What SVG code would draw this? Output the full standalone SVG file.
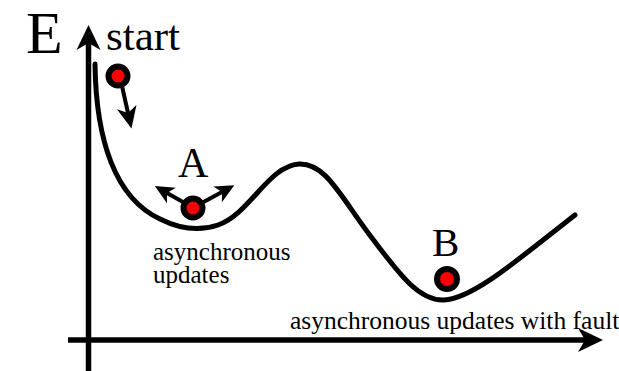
<svg xmlns="http://www.w3.org/2000/svg" width="619" height="371" viewBox="0 0 619 371">
<style>
.ax{stroke:#000;stroke-width:5.5;fill:none}
.cv{stroke:#000;stroke-width:5;fill:none;stroke-linecap:round;stroke-linejoin:round}
.ar{stroke:#000;stroke-width:4;fill:none}
.ball{fill:#f00;stroke:#000;stroke-width:6;stroke-linejoin:round}
.t{fill:#000;font-family:"Liberation Serif",Tinos,"Times New Roman",Times,"Nimbus Roman","DejaVu Serif",serif}
</style>
<defs>
<marker id="big" markerUnits="userSpaceOnUse" markerWidth="30" markerHeight="30" refX="7" refY="0" orient="auto" viewBox="0 -15 30 30" overflow="visible">
<path d="M25,0 L0,-12 L7,0 L0,12 Z" fill="#000"/>
</marker>
<marker id="med" markerUnits="userSpaceOnUse" markerWidth="30" markerHeight="30" refX="6" refY="0" orient="auto" viewBox="0 -15 30 30" overflow="visible">
<path d="M22,0 L0,-10 L6,0 L0,10 Z" fill="#000"/>
</marker>
<marker id="small" markerUnits="userSpaceOnUse" markerWidth="30" markerHeight="30" refX="5" refY="0" orient="auto" viewBox="0 -15 30 30" overflow="visible">
<path d="M19,0 L0,-9 L5,0 L0,9 Z" fill="#000"/>
</marker>
</defs>
<g id="connectors">
<line id="y-axis" class="ax" x1="88.5" y1="371" x2="88.5" y2="43" marker-end="url(#big)"/>
<line id="x-axis" class="ax" x1="68" y1="340" x2="585" y2="340" marker-end="url(#big)"/>
<path id="energy-curve" class="cv" d="M95,64 C96,140 115,198 160,219 C178,228 198,232 218,225 C250,214 268,166 299,164 C326,163 340,196 372,238 C398,272 418,301 444,300 C472,299 515,262 575,215"/>
<line id="start-arrow" class="ar" x1="122" y1="86" x2="128" y2="113" marker-end="url(#med)"/>
<line id="a-left-arrow" class="ar" x1="190" y1="206" x2="167" y2="193" marker-end="url(#small)"/>
<line id="a-right-arrow" class="ar" x1="198" y1="205" x2="222" y2="192" marker-end="url(#small)"/>
</g>
<g id="axis-label-E"><text class="t" x="26" y="53" font-size="60">E</text></g>
<g id="node-start">
<circle class="ball" cx="118" cy="76" r="9.5"/>
<text class="t" x="106" y="50" font-size="43">start</text>
</g>
<g id="node-A">
<circle class="ball" cx="193" cy="208" r="9.5"/>
<text class="t" x="178" y="177" font-size="42">A</text>
<text class="t" x="153" y="260" font-size="25">asynchronous</text>
<text class="t" x="153" y="283" font-size="25">updates</text>
</g>
<g id="node-B">
<circle class="ball" cx="447" cy="279" r="10"/>
<text class="t" x="432" y="256" font-size="41">B</text>
</g>
<g id="axis-label-x"><text class="t" x="290" y="329" font-size="25.5">asynchronous updates with fault</text></g>
</svg>
